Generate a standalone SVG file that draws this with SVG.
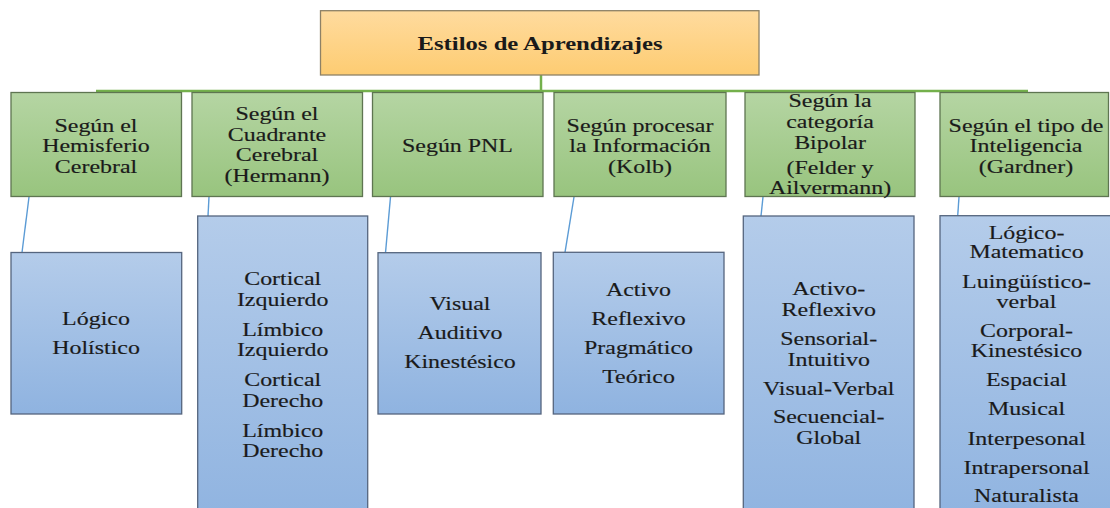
<svg xmlns="http://www.w3.org/2000/svg" width="1110" height="508" viewBox="0 0 1110 508">
<defs>
<linearGradient id="gOrange" x1="0" y1="0" x2="0" y2="1"><stop offset="0" stop-color="#FFDB9E"/><stop offset="1" stop-color="#FDCC72"/></linearGradient>
<linearGradient id="gGreen" x1="0" y1="0" x2="0" y2="1"><stop offset="0" stop-color="#B5D5A3"/><stop offset="1" stop-color="#98C47E"/></linearGradient>
<linearGradient id="gBlue" x1="0" y1="0" x2="0" y2="1"><stop offset="0" stop-color="#B4CCEA"/><stop offset="1" stop-color="#8FB3E0"/></linearGradient>
<style>
.root{fill:url(#gOrange);stroke:#8E8166;stroke-width:1.3}
.cat{fill:url(#gGreen);stroke:#5E7551;stroke-width:1.3}
.item{fill:url(#gBlue);stroke:#55657E;stroke-width:1.3}
.t{font-family:"Liberation Serif","Times New Roman",serif;font-size:18px;fill:#1A1A1A;stroke:#1A1A1A;stroke-width:0.15;text-anchor:middle}
.tb{font-family:"Liberation Serif","Times New Roman",serif;font-size:19px;font-weight:bold;fill:#1A1A1A;text-anchor:middle}
.cg{stroke:#74B04C;stroke-width:2.5;fill:none}
.cb{stroke:#5B9BD5;stroke-width:1.4;fill:none}
</style>
</defs>
<rect width="1110" height="508" fill="#FFFFFF"/>
<g id="connectors">
<line class="cg" x1="541" y1="75" x2="541" y2="91"/>
<line class="cg" x1="96" y1="91" x2="1028" y2="91"/>
<line class="cb" x1="29" y1="197" x2="22" y2="252.5"/>
<line class="cb" x1="209" y1="197" x2="208" y2="216"/>
<line class="cb" x1="390.5" y1="197" x2="385.5" y2="252.7"/>
<line class="cb" x1="574" y1="197" x2="565" y2="252.3"/>
<line class="cb" x1="763" y1="197" x2="761" y2="216"/>
<line class="cb" x1="959" y1="197" x2="957.7" y2="216"/>
</g>
<g id="root">
<rect class="root" x="320.5" y="10.7" width="438.5" height="64.3"/>
<text class="tb" transform="translate(540,0) scale(1.3,1)"><tspan x="0" y="50">Estilos de Aprendizajes</tspan></text>
</g>
<g id="cat1">
<rect class="cat" x="11" y="92.5" width="170.5" height="104"/>
<text class="t" transform="translate(96,0) scale(1.33,1)"><tspan x="0" y="132">Según el</tspan><tspan x="0" y="152.5">Hemisferio</tspan><tspan x="0" y="173">Cerebral</tspan></text>
</g>
<g id="cat2">
<rect class="cat" x="192" y="92.5" width="170.5" height="104"/>
<text class="t" transform="translate(277,0) scale(1.33,1)"><tspan x="0" y="120.5">Según el</tspan><tspan x="0" y="141">Cuadrante</tspan><tspan x="0" y="161.5">Cerebral</tspan><tspan x="0" y="182">(Hermann)</tspan></text>
</g>
<g id="cat3">
<rect class="cat" x="372.5" y="92.5" width="170.5" height="104"/>
<text class="t" transform="translate(457.5,0) scale(1.33,1)"><tspan x="0" y="152.5">Según PNL</tspan></text>
</g>
<g id="cat4">
<rect class="cat" x="554" y="92.5" width="172" height="104"/>
<text class="t" transform="translate(640,0) scale(1.33,1)"><tspan x="0" y="132">Según procesar</tspan><tspan x="0" y="152.5">la Información</tspan><tspan x="0" y="173">(Kolb)</tspan></text>
</g>
<g id="cat5">
<rect class="cat" x="745" y="92.5" width="170" height="104"/>
<text class="t" transform="translate(830,0) scale(1.33,1)"><tspan x="0" y="107">Según la</tspan><tspan x="0" y="128">categoría</tspan><tspan x="0" y="149">Bipolar</tspan><tspan x="0" y="174">(Felder y</tspan><tspan x="0" y="194">Ailvermann)</tspan></text>
</g>
<g id="cat6">
<rect class="cat" x="940" y="92.5" width="168.5" height="104"/>
<text class="t" transform="translate(1026,0) scale(1.33,1)"><tspan x="0" y="132">Según el tipo de</tspan><tspan x="0" y="152.5">Inteligencia</tspan><tspan x="0" y="173">(Gardner)</tspan></text>
</g>
<g id="item1">
<rect class="item" x="11" y="252.5" width="170.7" height="161.5"/>
<text class="t" transform="translate(96,0) scale(1.33,1)"><tspan x="0" y="325">Lógico</tspan><tspan x="0" y="354">Holístico</tspan></text>
</g>
<g id="item2">
<rect class="item" x="197.7" y="216" width="170" height="310"/>
<text class="t" transform="translate(282.7,0) scale(1.33,1)"><tspan x="0" y="285.5">Cortical</tspan><tspan x="0" y="306">Izquierdo</tspan><tspan x="0" y="336">Límbico</tspan><tspan x="0" y="356.5">Izquierdo</tspan><tspan x="0" y="386.5">Cortical</tspan><tspan x="0" y="407">Derecho</tspan><tspan x="0" y="437">Límbico</tspan><tspan x="0" y="457.5">Derecho</tspan></text>
</g>
<g id="item3">
<rect class="item" x="378" y="252.7" width="163" height="161.3"/>
<text class="t" transform="translate(460,0) scale(1.33,1)"><tspan x="0" y="310">Visual</tspan><tspan x="0" y="339.3">Auditivo</tspan><tspan x="0" y="368.3">Kinestésico</tspan></text>
</g>
<g id="item4">
<rect class="item" x="553.3" y="252.3" width="170.7" height="161.7"/>
<text class="t" transform="translate(638.5,0) scale(1.33,1)"><tspan x="0" y="296">Activo</tspan><tspan x="0" y="325">Reflexivo</tspan><tspan x="0" y="353.5">Pragmático</tspan><tspan x="0" y="382.7">Teórico</tspan></text>
</g>
<g id="item5">
<rect class="item" x="743.3" y="216" width="170.7" height="310"/>
<text class="t" transform="translate(828.7,0) scale(1.33,1)"><tspan x="0" y="295">Activo-</tspan><tspan x="0" y="315.7">Reflexivo</tspan><tspan x="0" y="345">Sensorial-</tspan><tspan x="0" y="365.7">Intuitivo</tspan><tspan x="0" y="395">Visual-Verbal</tspan><tspan x="0" y="423.5">Secuencial-</tspan><tspan x="0" y="444.3">Global</tspan></text>
</g>
<g id="item6">
<rect class="item" x="940" y="215.7" width="180" height="310"/>
<text class="t" transform="translate(1026.5,0) scale(1.33,1)"><tspan x="0" y="239.3">Lógico-</tspan><tspan x="0" y="258.3">Matematico</tspan><tspan x="0" y="288.3">Luingüístico-</tspan><tspan x="0" y="308.3">verbal</tspan><tspan x="0" y="337.3">Corporal-</tspan><tspan x="0" y="357.3">Kinestésico</tspan><tspan x="0" y="386">Espacial</tspan><tspan x="0" y="415">Musical</tspan><tspan x="0" y="445">Interpesonal</tspan><tspan x="0" y="474">Intrapersonal</tspan><tspan x="0" y="501.7">Naturalista</tspan></text>
</g>
</svg>
